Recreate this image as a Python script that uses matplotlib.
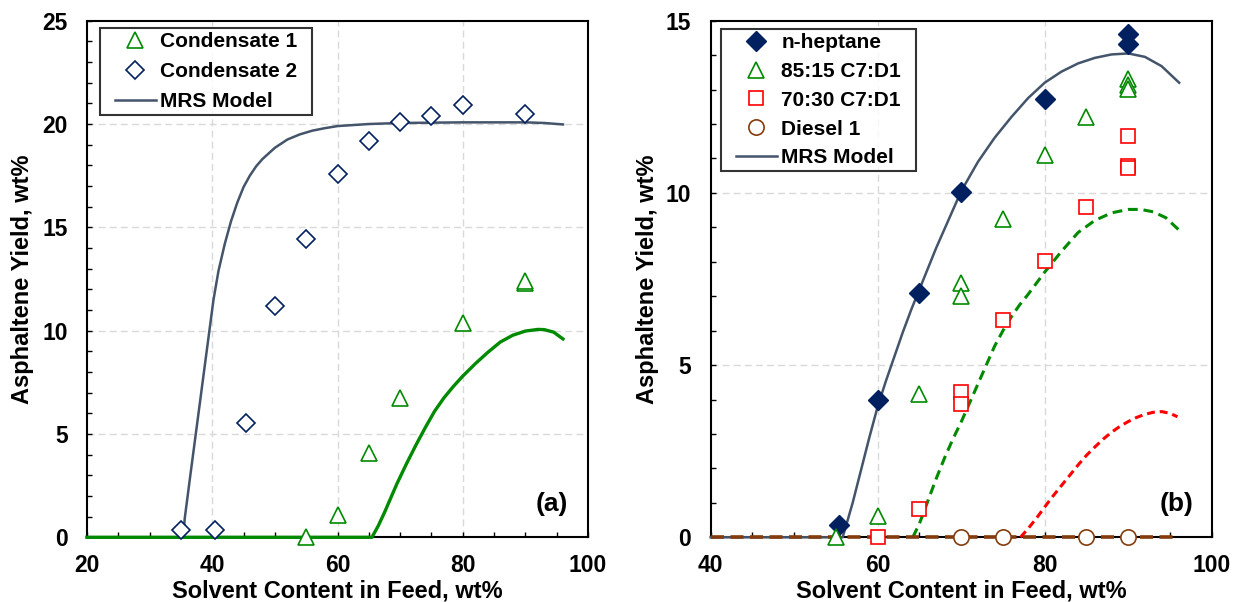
import matplotlib
matplotlib.use("Agg")
import matplotlib.pyplot as plt
from matplotlib.path import Path
from matplotlib.ticker import MultipleLocator

plt.rcParams['font.family'] = ['Liberation Sans', 'DejaVu Sans']
plt.rcParams['font.weight'] = 'bold'

# ---------------- Panel (a): condensates ----------------
cond1_x = [55, 60, 65, 70, 80, 90, 90]
cond1_y = [0.0, 1.08, 4.07, 6.73, 10.39, 12.33, 12.40]

cond2_x = [35, 40.4, 45.4, 50, 55, 60, 65, 70, 75, 80, 90]
cond2_y = [0.35, 0.35, 5.52, 11.21, 14.42, 17.57, 19.20, 20.12, 20.41, 20.92, 20.47]

mrs_c2_x = [20, 35.4, 35.6, 36.5, 37.5, 38.5, 39.5, 40.2, 41, 42, 43, 44, 45, 46,
            47, 48, 50, 52, 54, 56, 58, 60, 65, 70, 80, 90, 93, 96]
mrs_c2_y = [0, 0, 0.9, 3.0, 5.3, 7.6, 9.9, 11.5, 12.9, 14.2, 15.3, 16.2, 16.95, 17.5,
            17.95, 18.3, 18.85, 19.25, 19.5, 19.68, 19.8, 19.9, 20.0, 20.05, 20.08,
            20.08, 20.05, 19.98]

mrs_c1_x = [20, 65.5, 66.5, 67.5, 68.5, 69.5, 71, 72.5, 74, 75.5, 77, 78.5, 80, 82,
            84, 86, 88, 90, 92, 93, 94.5, 96]
mrs_c1_y = [0, 0, 0.55, 1.2, 1.9, 2.6, 3.55, 4.45, 5.3, 6.1, 6.75, 7.3, 7.8, 8.4,
            8.95, 9.45, 9.78, 9.98, 10.06, 10.05, 9.93, 9.6]

# ---------------- Panel (b): heptane / diesel blends ----------------
hept_x = [55.4, 60, 65, 70, 80, 90, 90]
hept_y = [0.37, 3.98, 7.08, 10.02, 12.73, 14.62, 14.33]

c85_x = [55, 60, 65, 70, 70, 75, 80, 85, 90, 90, 90]
c85_y = [0.0, 0.62, 4.15, 7.37, 7.0, 9.24, 11.1, 12.21, 13.3, 13.12, 13.02]

c70_x = [60, 65, 70, 70, 75, 80, 85, 90, 90, 90]
c70_y = [0.0, 0.81, 4.23, 3.87, 6.31, 8.03, 9.58, 10.78, 10.72, 11.66]

dsl_x = [70, 75, 85, 90]
dsl_y = [0, 0, 0, 0]

mrs_h_x = [40, 55.8, 56.3, 57, 58, 59, 60, 61, 62, 63, 64, 65, 66, 67, 68, 69, 70,
           72, 74, 76, 78, 80, 82, 84, 86, 88, 90, 92, 94, 96.1]
mrs_h_y = [0, 0, 0.41, 1.0, 1.95, 2.9, 3.8, 4.55, 5.25, 5.95, 6.6, 7.2, 7.8, 8.4,
           8.95, 9.5, 10.05, 10.9, 11.6, 12.2, 12.75, 13.2, 13.52, 13.76, 13.92,
           14.02, 14.05, 13.95, 13.68, 13.2]

mrs_85_x = [64.2, 65, 66, 67, 68, 69, 70, 71, 72, 73, 74, 75, 76, 77, 78, 80, 82,
            84, 86, 88, 90, 91.5, 93, 94.5, 96]
mrs_85_y = [0, 0.4, 1.05, 1.7, 2.3, 2.85, 3.35, 3.9, 4.45, 5.0, 5.55, 6.0, 6.4,
            6.75, 7.05, 7.7, 8.3, 8.85, 9.2, 9.42, 9.52, 9.52, 9.45, 9.28, 8.94]

mrs_70_x = [77.1, 78, 79, 80, 81, 82, 83, 84, 85, 86, 87, 88, 89, 90, 91, 92, 93,
            94, 95, 95.9]
mrs_70_y = [0, 0.25, 0.55, 0.88, 1.2, 1.5, 1.8, 2.1, 2.38, 2.62, 2.85, 3.05, 3.22,
            3.36, 3.48, 3.57, 3.63, 3.65, 3.6, 3.5]

mrs_d_x = [40, 96]
mrs_d_y = [0, 0]

NAVY = '#002060'
GREEN = '#008A00'
SLATE = '#44546A'
RED = '#FF0000'
BROWN = '#843C0C'

LINE_Z = 2.7    # model curves sit on top of the axis frame
MARK_Z = 3.0


def wide_box(x0, y0, width, height, mutation_size):
    """Legend frame with extra horizontal room on both sides."""
    px = 0.5 * mutation_size
    return Path([(x0 - px, y0), (x0 + width + px, y0),
                 (x0 + width + px, y0 + height), (x0 - px, y0 + height),
                 (x0 - px, y0)], closed=True)


def style_axes(ax, xlim, ylim, xmaj, ymaj, grid_x, grid_y):
    ax.set_xlim(*xlim)
    ax.set_ylim(*ylim)
    ax.xaxis.set_major_locator(MultipleLocator(xmaj))
    ax.yaxis.set_major_locator(MultipleLocator(ymaj))
    ax.xaxis.set_minor_locator(MultipleLocator(5))
    ax.yaxis.set_minor_locator(MultipleLocator(1))
    ax.tick_params(which='both', direction='in', top=False, right=False,
                   width=1.0, length=3.5, colors='black')
    ax.tick_params(axis='x', which='major', pad=12, labelsize=16.5)
    ax.tick_params(axis='y', which='major', pad=14, labelsize=16.5)
    for lab in ax.get_xticklabels() + ax.get_yticklabels():
        lab.set_fontweight('bold')
    for s in ax.spines.values():
        s.set_linewidth(1.5)
        s.set_color('black')
        s.set_zorder(2.5)
    for gx in grid_x:
        ax.axvline(gx, color='#D9D9D9', lw=1.0, ls=(0, (5, 3)), zorder=0)
    for gy in grid_y:
        ax.axhline(gy, color='#D9D9D9', lw=1.0, ls=(0, (5, 3)), zorder=0)
    ax.set_xlabel('Solvent Content in Feed, wt%', fontsize=17,
                  fontweight='bold', labelpad=2)
    ax.set_ylabel('Asphaltene Yield, wt%', fontsize=17, fontweight='bold')


fig = plt.figure(figsize=(12.33, 6.02), dpi=100)
ax1 = fig.add_axes([0.07056, 0.10748, 0.40633, 0.85814])
ax2 = fig.add_axes([0.5764, 0.10748, 0.40633, 0.85814])

# ---- panel (a) ----
ax1.plot(mrs_c2_x, mrs_c2_y, color=SLATE, lw=1.8, zorder=LINE_Z, clip_on=False,
         label='MRS Model')
ax1.plot(mrs_c1_x, mrs_c1_y, color=GREEN, lw=2.4, zorder=LINE_Z, clip_on=False)
ax1.plot(cond1_x, cond1_y, ls='none', marker='^', ms=12, mfc='white',
         mec=GREEN, mew=1.2, zorder=MARK_Z, clip_on=False, label='Condensate 1')
ax1.plot(cond2_x, cond2_y, ls='none', marker='D', ms=9.5, mfc='white',
         mec=NAVY, mew=1.2, zorder=MARK_Z, clip_on=False, label='Condensate 2')
style_axes(ax1, (20, 100), (0, 25), 20, 5, [40, 60, 80], [5, 10, 15, 20])
ax1.yaxis.set_label_coords(-0.106, 0.5)
h, l = ax1.get_legend_handles_labels()
order = [1, 2, 0]
leg1 = ax1.legend([h[i] for i in order], [l[i] for i in order],
                  loc='upper left', bbox_to_anchor=(0.0467, 0.9859),
                  borderaxespad=0, frameon=True, fancybox=False,
                  borderpad=0.2, labelspacing=0.52, handlelength=2.0,
                  handletextpad=0.2, prop={'weight': 'bold', 'size': 15})
leg1.get_frame().set_boxstyle(wide_box)
leg1.get_frame().set_edgecolor('black')
leg1.get_frame().set_linewidth(1.5)
leg1.set_zorder(5)
ax1.text(0.96, 0.064, '(a)', transform=ax1.transAxes, ha='right', va='center',
         fontsize=19, fontweight='bold')

# ---- panel (b) ----
ax2.plot(mrs_85_x, mrs_85_y, color=GREEN, lw=2.2, ls=(0, (3.2, 1.9)),
         zorder=LINE_Z, clip_on=False)
ax2.plot(mrs_70_x, mrs_70_y, color=RED, lw=2.2, ls=(0, (2.6, 1.6)),
         zorder=LINE_Z, clip_on=False)
ax2.plot(mrs_h_x, mrs_h_y, color=SLATE, lw=1.8, zorder=LINE_Z, clip_on=False,
         label='MRS Model')
ax2.plot(mrs_d_x, mrs_d_y, color=BROWN, lw=2.6, ls=(0, (3.6, 1.8)),
         zorder=LINE_Z, clip_on=False)
ax2.plot(hept_x, hept_y, ls='none', marker='D', ms=10.5, mfc=NAVY, mec=NAVY,
         mew=1.0, zorder=MARK_Z, clip_on=False, label='n-heptane')
ax2.plot(c85_x, c85_y, ls='none', marker='^', ms=12, mfc='white', mec=GREEN,
         mew=1.2, zorder=MARK_Z, clip_on=False, label='85:15 C7:D1')
ax2.plot(c70_x, c70_y, ls='none', marker='s', ms=10.5, mfc='white', mec=RED,
         mew=1.2, zorder=MARK_Z, clip_on=False, label='70:30 C7:D1')
ax2.plot(dsl_x, dsl_y, ls='none', marker='o', ms=11, mfc='white', mec=BROWN,
         mew=1.2, zorder=MARK_Z, clip_on=False, label='Diesel 1')
style_axes(ax2, (40, 100), (0, 15), 20, 5, [60, 80], [5, 10])
ax2.yaxis.set_label_coords(-0.103, 0.5)
h, l = ax2.get_legend_handles_labels()
order = [1, 2, 3, 4, 0]
leg2 = ax2.legend([h[i] for i in order], [l[i] for i in order],
                  loc='upper left', bbox_to_anchor=(0.0413, 0.984),
                  borderaxespad=0, frameon=True, fancybox=False,
                  borderpad=0.2, labelspacing=0.47, handlelength=2.0,
                  handletextpad=0.2, prop={'weight': 'bold', 'size': 15})
leg2.get_frame().set_boxstyle(wide_box)
leg2.get_frame().set_edgecolor('black')
leg2.get_frame().set_linewidth(1.5)
leg2.set_zorder(5)
ax2.text(0.963, 0.064, '(b)', transform=ax2.transAxes, ha='right', va='center',
         fontsize=19, fontweight='bold')

fig.savefig('out.png', dpi=100, facecolor='white')
